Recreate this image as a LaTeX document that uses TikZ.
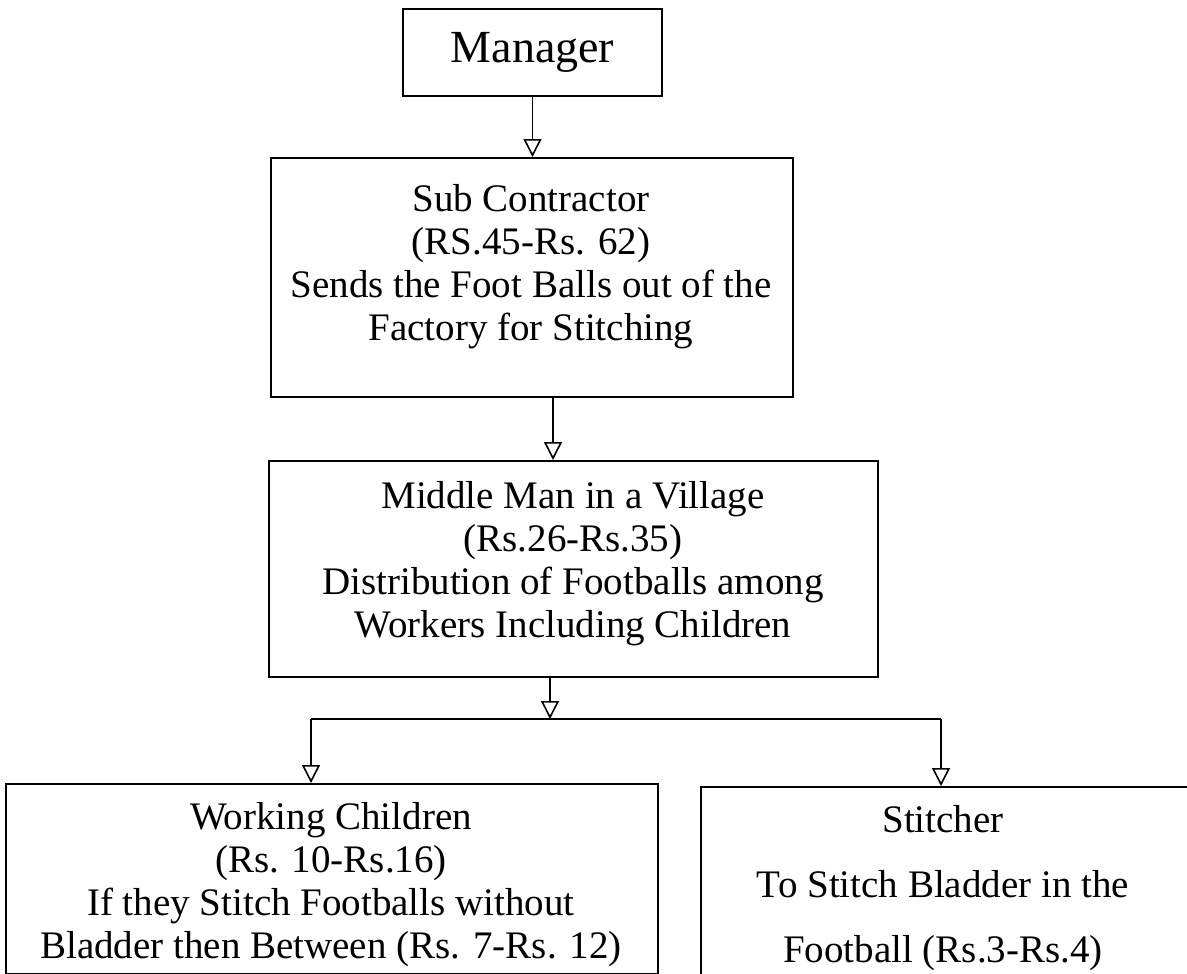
\documentclass[tikz,border=0pt]{standalone}
\usepackage{fontspec}
\setmainfont{Liberation Serif}
\usetikzlibrary{arrows.meta}
\tikzset{
  box/.style={draw, line width=2pt, rectangle, inner sep=0pt, anchor=north west},
  lbl/.style={inner sep=0pt, align=center, anchor=north, font=\fontsize{39}{43}\selectfont},
  conn/.style={line width=1.6pt, -{Triangle[open, length=18pt, width=18pt, line width=1.6pt]}},
  wire/.style={line width=1.6pt},
}
\begin{document}
\begin{tikzpicture}[x=1pt,y=-1pt]
\useasboundingbox (0,0) rectangle (1187,974);
\fill[white] (0,0) rectangle (1187,974);
\clip (0,0) rectangle (1187,974);
% boxes
\node[box, minimum width=259pt, minimum height=87pt] (mgr) at (402,8) {};
\node[box, minimum width=522pt, minimum height=239pt] (sub) at (270,157) {};
\node[box, minimum width=609pt, minimum height=216pt] (mid) at (268,460) {};
\node[box, minimum width=652pt, minimum height=190pt] (wc) at (5,783) {};
\node[box, minimum width=520pt, minimum height=220pt] (st) at (700,786) {};
% texts
\node[inner sep=0pt, font=\fontsize{46}{52}\selectfont] (mgrt) at (mgr.center) {Manager};
\node[lbl] (subt) at (531,184) {Sub Contractor\\(RS.45-Rs. 62)\\Sends the Foot Balls out of the\\Factory for Stitching};
\node[lbl] (midt) at (573,481) {Middle Man in a Village\\(Rs.26-Rs.35)\\Distribution of Footballs among\\Workers Including Children};
\node[lbl] (wct) at (331,802) {Working Children\\(Rs. 10-Rs.16)\\If they Stitch Footballs without\\Bladder then Between (Rs. 7-Rs. 12)};
\node[lbl, font=\fontsize{39}{65}\selectfont] (stt) at (943,805) {Stitcher\\To Stitch Bladder in the\\Football (Rs.3-Rs.4)};
% connectors
\coordinate (a2) at ([xshift=21pt]sub.south);
\coordinate (j) at (550,719);
\coordinate (jl) at (311,719);
\coordinate (jr) at (941,719);
\draw[conn] (mgr.south) -- (mgr.south |- sub.north);
\draw[conn] (a2) -- (a2 |- mid.north);
\draw[conn] (j |- mid.south) -- (j);
\draw[wire] (jl) -- (jr);
\draw[conn] (jl) -- (jl |- wc.north);
\draw[conn] (jr) -- (jr |- st.north);
\end{tikzpicture}
\end{document}
